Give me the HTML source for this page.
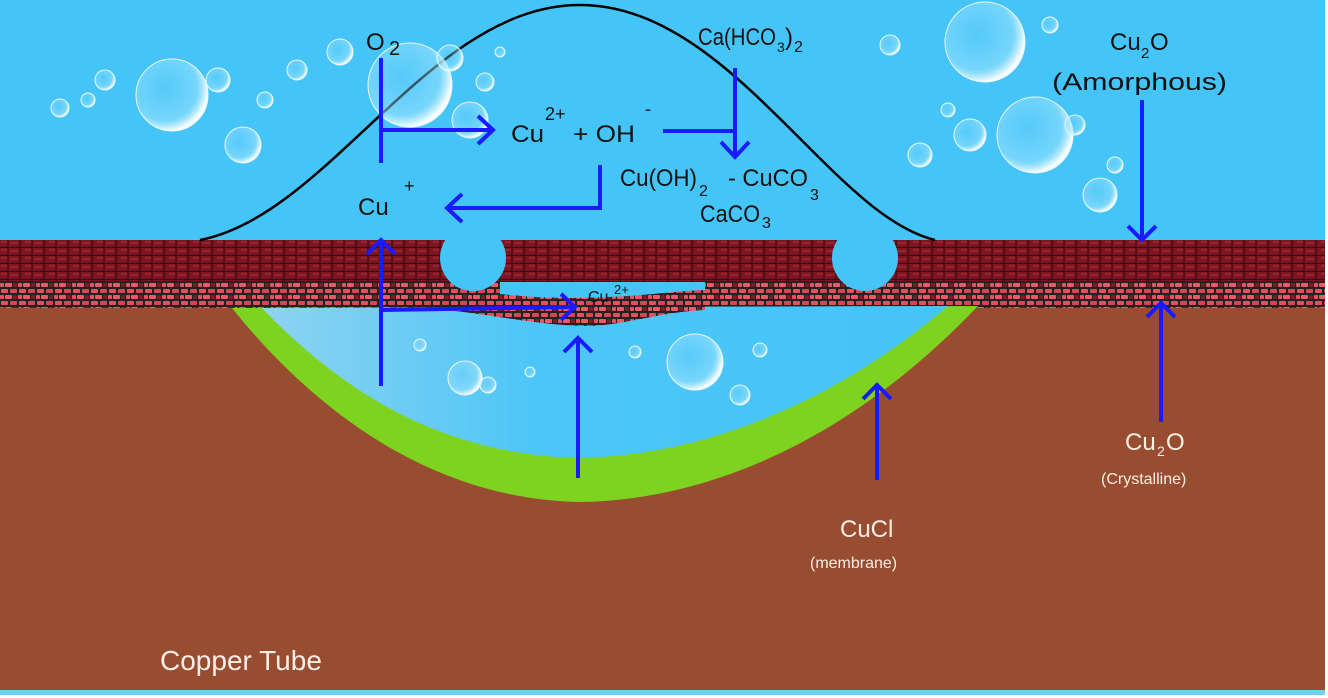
<!DOCTYPE html>
<html><head><meta charset="utf-8"><style>
html,body{margin:0;padding:0;background:#fff;}
svg{display:block;font-family:"Liberation Sans",sans-serif;}
</style></head><body>
<svg width="1328" height="698" viewBox="0 0 1328 698" xmlns="http://www.w3.org/2000/svg">
<defs>
<radialGradient id="bub" cx="0.4" cy="0.4" r="0.6">
<stop offset="0" stop-color="#7fd8ff" stop-opacity="0.3"/>
<stop offset="0.75" stop-color="#a8e8ff" stop-opacity="0.5"/>
<stop offset="1" stop-color="#ffffff" stop-opacity="0.95"/>
</radialGradient>
<linearGradient id="pitg" x1="0" y1="0" x2="1" y2="0">
<stop offset="0" stop-color="#8fd3f0"/><stop offset="0.4" stop-color="#4cc6f7"/><stop offset="1" stop-color="#45c4f8"/>
</linearGradient>
<pattern id="cells" width="18" height="12" patternUnits="userSpaceOnUse">
<rect width="18" height="12" fill="#222"/>
<rect x="1" y="1" width="7" height="4" rx="1" fill="#e8505f"/>
<rect x="10" y="1" width="7" height="4" rx="1" fill="#d84656"/>
<rect x="5" y="7" width="7" height="4" rx="1" fill="#f05a68"/>
<rect x="13" y="7" width="4" height="4" rx="1" fill="#7a1e28"/>
<rect x="0" y="7" width="4" height="4" rx="1" fill="#e85562"/>
</pattern>
<pattern id="bricks" width="24" height="8" patternUnits="userSpaceOnUse">
<rect width="24" height="8" fill="#7d1620"/>
<path d="M0 7.5H24M8 0V7M20 0V7" stroke="#3e0a10" stroke-width="1.2"/>
<path d="M1 2H7M10 3H18" stroke="#b03040" stroke-width="1"/>
</pattern>
</defs>
<rect x="0" y="0" width="1325" height="698" fill="#45c4f8"/>
<rect x="0" y="306" width="1325" height="384" fill="#994d30"/>
<rect x="0" y="690" width="1325" height="5" fill="#6fd0f0"/>
<rect x="0" y="695" width="1328" height="3" fill="#fff"/>
<rect x="0" y="240" width="1325" height="42" fill="url(#bricks)"/>
<rect x="0" y="281" width="1325" height="27" fill="url(#cells)"/>
<!-- pit -->
<path d="M232 308 C330 430 450 500 580 502 C720 500 860 430 978 306 Z" fill="#7ed320"/>
<path d="M262 308 C350 400 450 455 580 458 C720 455 850 390 948 306 Z" fill="url(#pitg)"/>
<!-- gap & inner oxide -->
<path d="M500 282 L705 282 L705 292 C650 294 610 298 570 298 C540 298 520 296 500 294 Z" fill="#45c4f8"/>
<path d="M445 292 C480 293 520 296 560 299 C610 300 660 292 705 290 L705 310 C660 312 630 324 590 326 C540 326 490 314 445 310 Z" fill="url(#cells)"/>
<!-- holes -->
<circle cx="473" cy="258" r="33" fill="#45c4f8"/>
<rect x="455" y="238" width="36" height="10" fill="#45c4f8"/>
<circle cx="865" cy="258" r="33" fill="#45c4f8"/>
<rect x="847" y="238" width="36" height="10" fill="#45c4f8"/>
<path d="M200 240 C330 215 430 5 580 5 C730 5 830 215 935 240" fill="none" stroke="#000" stroke-width="2.5"/>
<g fill="url(#bub)" stroke="#e8f8ff" stroke-width="1">
<circle cx="172" cy="95" r="36"/><circle cx="218" cy="80" r="12"/><circle cx="243" cy="145" r="18"/><circle cx="105" cy="80" r="10"/><circle cx="88" cy="100" r="7"/><circle cx="60" cy="108" r="9"/><circle cx="297" cy="70" r="10"/><circle cx="340" cy="52" r="13"/><circle cx="265" cy="100" r="8"/><circle cx="410" cy="85" r="42"/><circle cx="450" cy="58" r="13"/><circle cx="485" cy="82" r="9"/><circle cx="470" cy="120" r="18"/><circle cx="500" cy="52" r="5"/>
<circle cx="985" cy="42" r="40"/><circle cx="1035" cy="135" r="38"/><circle cx="1100" cy="195" r="17"/><circle cx="970" cy="135" r="16"/><circle cx="920" cy="155" r="12"/><circle cx="890" cy="45" r="10"/><circle cx="1050" cy="25" r="8"/><circle cx="1075" cy="125" r="10"/><circle cx="948" cy="110" r="7"/><circle cx="1115" cy="165" r="8"/>
<circle cx="695" cy="362" r="28"/><circle cx="465" cy="378" r="17"/><circle cx="488" cy="385" r="8"/><circle cx="740" cy="395" r="10"/><circle cx="420" cy="345" r="6"/><circle cx="635" cy="352" r="6"/><circle cx="530" cy="372" r="5"/><circle cx="760" cy="350" r="7"/>
</g>
<g stroke="#1a1aff" stroke-width="4" fill="none">
<path d="M381 58V163M381 130H493M478 116L493 130L478 144"/>
<path d="M663 131H735M735 68V157M721 142L735 157L749 142"/>
<path d="M600 165V208H447M462 194L447 208L462 222"/>
<path d="M381 386V240M367 254L381 240L395 254"/>
<path d="M381 310L575 307M561 294L575 307L561 320"/>
<path d="M578 478V338M564 352L578 338L592 352"/>
<path d="M877 480V385M863 399L877 385L891 399"/>
<path d="M1142 100V240M1128 226L1142 240L1156 226"/>
<path d="M1161 422V303M1147 317L1161 303L1175 317"/>
</g>
<g fill="#111" font-size="24">
<text x="366" y="50">O</text><text x="389" y="55" font-size="20">2</text>
<text x="511" y="142" textLength="33" lengthAdjust="spacingAndGlyphs">Cu</text><text x="545" y="120" font-size="18">2+</text><text x="573" y="142" textLength="62" lengthAdjust="spacingAndGlyphs">+ OH</text><text x="645" y="115" font-size="18">-</text>
<text x="698" y="45" textLength="78" lengthAdjust="spacingAndGlyphs">Ca(HCO</text><text x="777" y="52" font-size="14">3</text><text x="785" y="45">)</text><text x="794" y="52" font-size="16">2</text>
<text x="620" y="186" textLength="77" lengthAdjust="spacingAndGlyphs">Cu(OH)</text><text x="699" y="196" font-size="16">2</text><text x="728" y="186" textLength="80" lengthAdjust="spacingAndGlyphs">- CuCO</text><text x="810" y="200" font-size="16">3</text>
<text x="700" y="222" textLength="60" lengthAdjust="spacingAndGlyphs">CaCO</text><text x="762" y="228" font-size="16">3</text>
<text x="358" y="215">Cu</text><text x="404" y="192" font-size="18">+</text>
<text x="1110" y="50">Cu</text><text x="1141" y="58" font-size="15">2</text><text x="1150" y="50">O</text>
<text x="1052" y="90" textLength="175" lengthAdjust="spacingAndGlyphs">(Amorphous)</text>
<text x="588" y="302" font-size="16">Cu</text><text x="614" y="294" font-size="13">2+</text>
</g>
<g fill="#fbeee6">
<text x="840" y="537" font-size="24">CuCl</text>
<text x="810" y="568" font-size="16">(membrane)</text>
<text x="1125" y="450" font-size="24">Cu</text><text x="1157" y="456" font-size="14">2</text><text x="1166" y="450" font-size="24">O</text>
<text x="1101" y="484" font-size="16">(Crystalline)</text>
<text x="160" y="670" font-size="28">Copper Tube</text>
</g>
</svg>
</body></html>
